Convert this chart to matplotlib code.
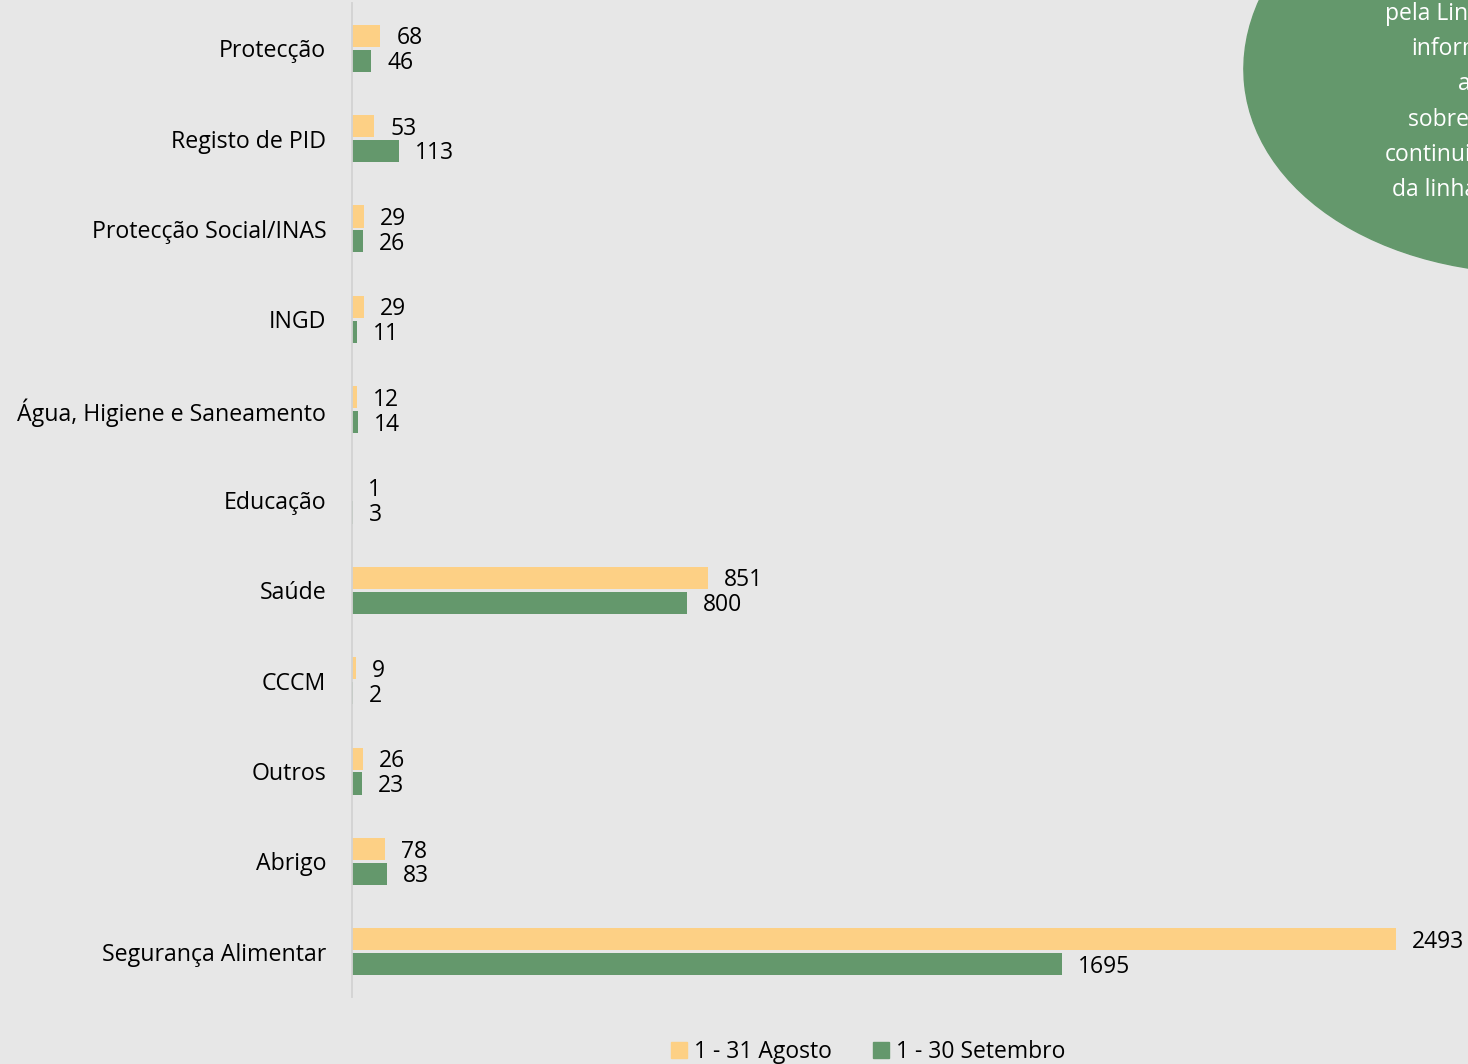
import matplotlib.pyplot as plt
import numpy as np
from matplotlib.patches import Ellipse, Patch

categories = ['Protecção', 'Registo de PID', 'Protecção Social/INAS', 'INGD',
              'Água, Higiene e Saneamento', 'Educação', 'Saúde', 'CCCM',
              'Outros', 'Abrigo', 'Segurança Alimentar']
agosto = [68, 53, 29, 29, 12, 1, 851, 9, 26, 78, 2493]
setembro = [46, 113, 26, 11, 14, 3, 800, 2, 23, 83, 1695]
series_names = ['1 - 31 Agosto', '1 - 30 Setembro']
bubble_lines = ['pela Linha Verde', 'informação', 'a', 'sobre a', 'continuidade', 'da linha']
bubble_x = [1385, 1411, 1458, 1408, 1385, 1392]

bg = '#e7e7e7'
c_ago = '#fdd085'
c_set = '#64986c'
plt.rcParams['font.family'] = ['Open Sans', 'DejaVu Sans']

fig = plt.figure(figsize=(14.68, 10.64), dpi=100, facecolor=bg)
ax = fig.add_axes([352 / 1468, 1 - 997 / 1064, 1116 / 1468, 994 / 1064])
ax.set_facecolor(bg)

y = np.arange(len(categories))
h = 0.245
ax.barh(y - 0.138, agosto, height=h, color=c_ago)
ax.barh(y + 0.138, setembro, height=h, color=c_set)
for yi, a, s in zip(y, agosto, setembro):
    ax.text(a + 38, yi - 0.11, str(a), va='center', ha='left', fontsize=16.5)
    ax.text(s + 38, yi + 0.165, str(s), va='center', ha='left', fontsize=16.5)

ax.set_xlim(0, 2665)
ax.set_ylim(len(categories) - 0.5, -0.5)
ax.set_yticks(y)
ax.set_yticklabels(categories, fontsize=16.7)
ax.tick_params(axis='y', length=0, pad=18.5)
ax.set_xticks([])
for sp in ['top', 'right', 'bottom']:
    ax.spines[sp].set_visible(False)
ax.spines['left'].set_color('#d2d2d2')
ax.spines['left'].set_linewidth(1.3)

handles = [Patch(color=c_ago), Patch(color=c_set)]
fig.legend(handles, series_names, loc='center', bbox_to_anchor=(868 / 1468, 1 - 1052 / 1064),
           ncol=2, frameon=False, fontsize=16.5, handlelength=0.7, handleheight=0.7,
           handletextpad=0.3, columnspacing=1.8)

# green bubble in the top right corner, cut by the figure edge
ov = fig.add_axes([0, 0, 1, 1], zorder=5)
ov.set_xlim(0, 1468)
ov.set_ylim(1064, 0)
ov.axis('off')
ov.add_patch(Ellipse((1560, 52), 634, 440, angle=-6, color=c_set))
for i, (line, bx) in enumerate(zip(bubble_lines, bubble_x)):
    ov.text(bx, 14 + i * 35.2, line, color='white', ha='left', va='center', fontsize=16.5)

fig.savefig('out.png', dpi=100, facecolor=bg)
